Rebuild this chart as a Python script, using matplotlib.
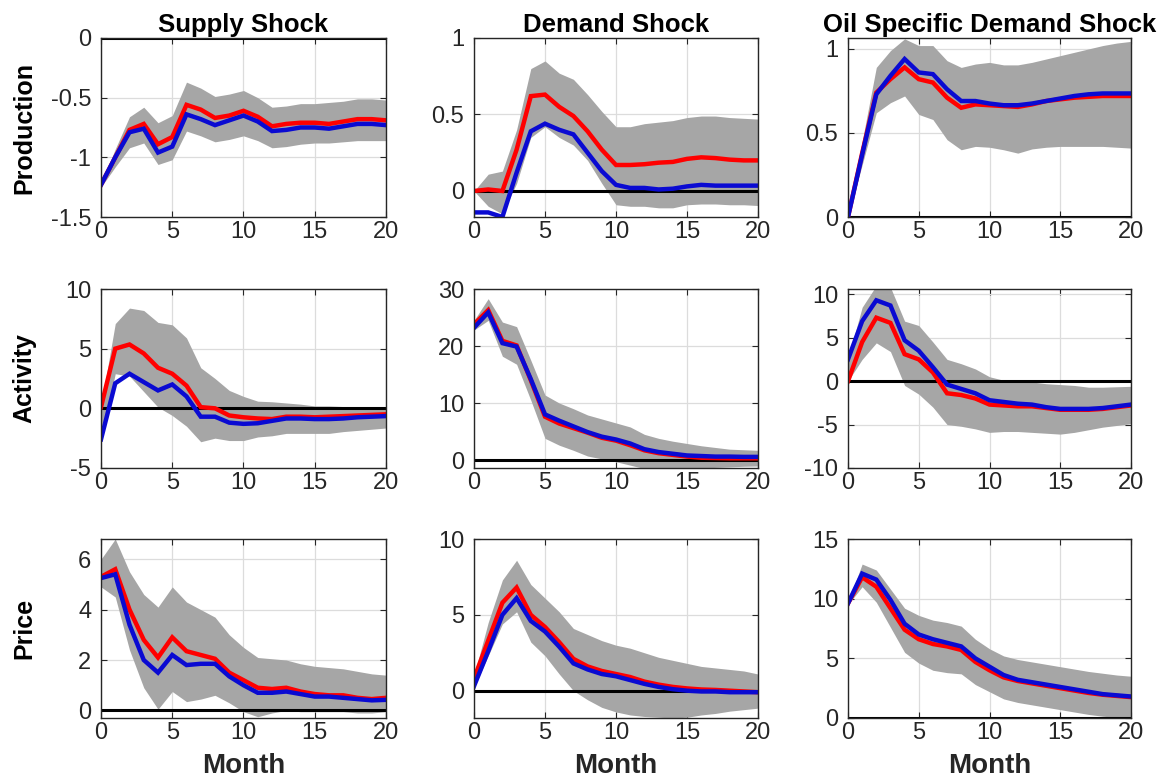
import numpy as np
import matplotlib
matplotlib.use("Agg")
import matplotlib.pyplot as plt

plt.rcParams['font.family'] = ['Liberation Sans', 'DejaVu Sans']

months = list(range(21))
shock_titles = ["Supply Shock", "Demand Shock", "Oil Specific Demand Shock"]
var_labels = ["Production", "Activity", "Price"]

# ---- Production ----
prod_supply_red = [-1.23, -1.0, -0.77, -0.72, -0.89, -0.83, -0.56, -0.60, -0.67, -0.65, -0.61,
                   -0.66, -0.74, -0.72, -0.71, -0.71, -0.72, -0.70, -0.68, -0.68, -0.69]
prod_supply_blue = [-1.23, -1.0, -0.79, -0.76, -0.96, -0.91, -0.64, -0.68, -0.73, -0.69, -0.65,
                    -0.70, -0.78, -0.77, -0.75, -0.75, -0.76, -0.74, -0.72, -0.72, -0.73]
prod_supply_hi = [-1.22, -0.93, -0.66, -0.58, -0.71, -0.65, -0.37, -0.42, -0.49, -0.47, -0.44,
                  -0.50, -0.58, -0.57, -0.55, -0.55, -0.54, -0.53, -0.51, -0.51, -0.52]
prod_supply_lo = [-1.25, -1.08, -0.92, -0.88, -1.06, -1.02, -0.78, -0.82, -0.87, -0.85, -0.82,
                  -0.86, -0.92, -0.91, -0.89, -0.88, -0.88, -0.87, -0.86, -0.86, -0.86]

prod_demand_red = [0.0, 0.01, 0.0, 0.27, 0.62, 0.63, 0.55, 0.49, 0.39, 0.27, 0.17,
                   0.17, 0.175, 0.185, 0.19, 0.21, 0.22, 0.215, 0.205, 0.20, 0.20]
prod_demand_blue = [-0.14, -0.14, -0.17, 0.12, 0.39, 0.44, 0.40, 0.37, 0.25, 0.13, 0.04,
                    0.02, 0.02, 0.01, 0.015, 0.03, 0.04, 0.035, 0.035, 0.035, 0.035]
prod_demand_hi = [0.0, 0.11, 0.13, 0.40, 0.80, 0.85, 0.77, 0.73, 0.63, 0.52, 0.42,
                  0.42, 0.44, 0.45, 0.46, 0.48, 0.49, 0.49, 0.48, 0.475, 0.47]
prod_demand_lo = [0.0, -0.10, -0.15, 0.05, 0.35, 0.42, 0.35, 0.30, 0.20, 0.05, -0.09,
                  -0.10, -0.10, -0.11, -0.11, -0.09, -0.085, -0.085, -0.09, -0.09, -0.095]

prod_oil_red = [0.0, 0.38, 0.74, 0.82, 0.89, 0.82, 0.80, 0.71, 0.65, 0.67, 0.665,
                0.66, 0.655, 0.67, 0.69, 0.70, 0.71, 0.715, 0.72, 0.72, 0.72]
prod_oil_blue = [0.0, 0.37, 0.73, 0.84, 0.94, 0.86, 0.85, 0.76, 0.69, 0.69, 0.675,
                 0.665, 0.665, 0.675, 0.69, 0.705, 0.72, 0.73, 0.735, 0.735, 0.735]
prod_oil_hi = [0.0, 0.45, 0.89, 0.99, 1.06, 1.02, 1.02, 0.93, 0.89, 0.91, 0.92,
               0.905, 0.905, 0.92, 0.94, 0.96, 0.98, 1.00, 1.02, 1.035, 1.045]
prod_oil_lo = [0.0, 0.31, 0.62, 0.68, 0.72, 0.61, 0.58, 0.46, 0.40, 0.42, 0.415,
               0.40, 0.38, 0.405, 0.415, 0.42, 0.42, 0.42, 0.42, 0.415, 0.41]

# ---- Activity ----
act_supply_red = [0.1, 5.0, 5.35, 4.6, 3.4, 2.9, 1.9, 0.1, 0.0, -0.6, -0.75,
                  -0.85, -0.9, -0.7, -0.7, -0.75, -0.7, -0.65, -0.6, -0.55, -0.5]
act_supply_blue = [-2.6, 2.1, 2.9, 2.2, 1.5, 2.0, 1.0, -0.7, -0.7, -1.2, -1.3,
                   -1.25, -1.05, -0.85, -0.85, -0.9, -0.9, -0.85, -0.75, -0.7, -0.65]
act_supply_hi = [0.2, 7.1, 8.4, 8.2, 7.2, 7.0, 5.9, 3.4, 2.5, 1.5, 1.0,
                 0.6, 0.55, 0.45, 0.35, 0.2, 0.2, 0.15, 0.1, 0.05, 0.0]
act_supply_lo = [-2.6, 2.9, 2.7, 1.4, 0.1, -0.6, -1.5, -2.8, -2.5, -2.7, -2.7,
                 -2.4, -2.3, -2.1, -2.1, -2.1, -2.1, -1.95, -1.85, -1.75, -1.65]

act_demand_red = [23.8, 26.3, 20.9, 20.1, 14.0, 7.6, 6.4, 5.6, 4.8, 3.9, 3.4,
                  2.6, 1.7, 1.2, 0.9, 0.6, 0.4, 0.35, 0.3, 0.3, 0.3]
act_demand_blue = [23.2, 25.9, 20.5, 19.9, 14.2, 8.0, 6.9, 5.9, 4.9, 4.1, 3.6,
                   2.9, 1.9, 1.4, 1.1, 0.8, 0.7, 0.6, 0.6, 0.55, 0.55]
act_demand_hi = [24.5, 28.3, 24.2, 23.4, 17.5, 11.4, 10.0, 9.0, 7.9, 7.2, 6.5,
                 5.8, 4.5, 3.8, 3.3, 2.9, 2.5, 2.2, 1.9, 1.8, 1.7]
act_demand_lo = [22.8, 24.5, 18.2, 16.8, 10.5, 3.8, 2.6, 1.7, 0.7, 0.2, -0.3,
                 -0.9, -1.5, -1.6, -1.6, -1.6, -1.4, -1.3, -1.2, -1.1, -1.05]

act_oil_red = [0.0, 4.5, 7.3, 6.7, 3.1, 2.5, 1.0, -1.4, -1.6, -2.0, -2.7,
               -2.8, -2.9, -2.9, -3.1, -3.3, -3.3, -3.3, -3.2, -3.0, -2.8]
act_oil_blue = [2.5, 6.9, 9.3, 8.7, 4.7, 3.5, 1.6, -0.4, -0.9, -1.4, -2.2,
                -2.4, -2.6, -2.7, -3.0, -3.2, -3.2, -3.2, -3.1, -2.9, -2.7]
act_oil_hi = [2.6, 8.5, 11.0, 10.8, 6.9, 6.4, 4.5, 2.5, 2.0, 1.4, 0.5,
              0.1, 0.0, -0.1, -0.3, -0.4, -0.5, -0.7, -0.7, -0.65, -0.6]
act_oil_lo = [0.0, 2.5, 4.4, 3.4, -0.5, -1.5, -3.0, -5.0, -5.2, -5.5, -5.9,
              -5.8, -5.8, -5.9, -6.0, -6.1, -5.9, -5.6, -5.3, -5.1, -4.9]

# ---- Price ----
price_supply_red = [5.3, 5.6, 4.0, 2.8, 2.1, 2.9, 2.35, 2.2, 2.05, 1.5, 1.2,
                    0.9, 0.85, 0.9, 0.75, 0.65, 0.6, 0.6, 0.5, 0.45, 0.5]
price_supply_blue = [5.25, 5.4, 3.4, 2.0, 1.5, 2.2, 1.8, 1.85, 1.85, 1.35, 1.0,
                     0.7, 0.7, 0.75, 0.65, 0.55, 0.55, 0.5, 0.45, 0.4, 0.42]
price_supply_hi = [6.0, 6.8, 5.5, 4.6, 4.1, 4.9, 4.3, 4.0, 3.7, 3.0, 2.5,
                   2.1, 2.05, 2.0, 1.85, 1.75, 1.7, 1.65, 1.55, 1.45, 1.4]
price_supply_lo = [4.9, 4.5, 2.4, 0.9, 0.05, 0.75, 0.35, 0.45, 0.6, 0.3, -0.05,
                   -0.25, -0.1, 0.0, -0.05, -0.05, -0.05, -0.05, -0.1, -0.1, -0.05]

price_demand_red = [0.8, 3.3, 5.8, 6.8, 5.0, 4.2, 3.2, 2.1, 1.6, 1.3, 1.1,
                    0.9, 0.6, 0.4, 0.25, 0.15, 0.08, 0.05, 0.0, -0.05, -0.1]
price_demand_blue = [0.3, 2.6, 5.0, 6.1, 4.6, 3.9, 2.9, 1.8, 1.4, 1.1, 0.95,
                     0.7, 0.45, 0.25, 0.1, 0.0, -0.05, -0.05, -0.1, -0.1, -0.1]
price_demand_hi = [1.0, 4.5, 7.3, 8.6, 7.0, 6.1, 5.2, 4.1, 3.7, 3.3, 3.0,
                   2.8, 2.5, 2.2, 2.0, 1.8, 1.6, 1.5, 1.4, 1.3, 1.1]
price_demand_lo = [0.2, 2.3, 4.4, 5.2, 3.2, 2.3, 1.1, 0.0, -0.6, -1.1, -1.4,
                   -1.6, -1.7, -1.75, -1.8, -1.75, -1.6, -1.5, -1.35, -1.25, -1.15]

price_oil_red = [9.6, 11.8, 11.0, 9.2, 7.4, 6.6, 6.2, 6.0, 5.7, 4.7, 4.0,
                 3.4, 3.1, 2.9, 2.7, 2.5, 2.3, 2.1, 1.95, 1.85, 1.75]
price_oil_blue = [9.6, 12.1, 11.6, 9.9, 7.9, 7.0, 6.6, 6.3, 6.0, 5.0, 4.3,
                  3.6, 3.2, 3.0, 2.8, 2.6, 2.4, 2.2, 2.0, 1.9, 1.8]
price_oil_hi = [9.7, 12.9, 12.4, 10.8, 9.2, 8.6, 8.2, 8.0, 7.7, 6.6, 5.8,
                5.2, 4.9, 4.7, 4.5, 4.3, 4.1, 3.9, 3.75, 3.6, 3.5]
price_oil_lo = [9.5, 11.0, 9.7, 7.6, 5.5, 4.6, 4.0, 3.8, 3.7, 2.8, 2.2,
                1.6, 1.3, 1.1, 0.9, 0.7, 0.5, 0.3, 0.15, 0.05, 0.0]

panels = [
    [(prod_supply_red, prod_supply_blue, prod_supply_hi, prod_supply_lo),
     (prod_demand_red, prod_demand_blue, prod_demand_hi, prod_demand_lo),
     (prod_oil_red, prod_oil_blue, prod_oil_hi, prod_oil_lo)],
    [(act_supply_red, act_supply_blue, act_supply_hi, act_supply_lo),
     (act_demand_red, act_demand_blue, act_demand_hi, act_demand_lo),
     (act_oil_red, act_oil_blue, act_oil_hi, act_oil_lo)],
    [(price_supply_red, price_supply_blue, price_supply_hi, price_supply_lo),
     (price_demand_red, price_demand_blue, price_demand_hi, price_demand_lo),
     (price_oil_red, price_oil_blue, price_oil_hi, price_oil_lo)],
]

ylims = [[(-1.5, 0.0), (-0.17, 1.0), (0.0, 1.065)],
         [(-5, 10), (-1.4, 30), (-10, 10.6)],
         [(-0.3, 6.8), (-1.8, 10), (0, 15)]]
yticks = [[[-1.5, -1, -0.5, 0], [0, 0.5, 1], [0, 0.5, 1]],
          [[-5, 0, 5, 10], [0, 10, 20, 30], [-10, -5, 0, 5, 10]],
          [[0, 2, 4, 6], [0, 5, 10], [0, 5, 10, 15]]]
ytick_labels = [[["-1.5", "-1", "-0.5", "0"], ["0", "0.5", "1"], ["0", "0.5", "1"]],
                [["-5", "0", "5", "10"], ["0", "10", "20", "30"], ["-10", "-5", "0", "5", "10"]],
                [["0", "2", "4", "6"], ["0", "5", "10"], ["0", "5", "10", "15"]]]
xticks = [0, 5, 10, 15, 20]

W, H = 1161, 780
fig = plt.figure(figsize=(W / 100, H / 100), dpi=100)

col_left = [101, 474, 848]
col_w = [285, 284, 283]
row_top = [38, 289, 539]
row_h = 179

BAND = '#a6a6a6'
RED = '#ff0000'
BLUE = '#0a0ad2'
TXT = '#262626'

for r in range(3):
    for c in range(3):
        red, blue, hi, lo = panels[r][c]
        ax = fig.add_axes([col_left[c] / W, 1 - (row_top[r] + row_h) / H,
                           col_w[c] / W, row_h / H])
        ax.fill_between(months, lo, hi, color=BAND, linewidth=0, zorder=1)
        ax.axhline(0, color='black', lw=2.2, zorder=2)
        ax.plot(months, red, color=RED, lw=3.2, zorder=3, solid_joinstyle='miter')
        ax.plot(months, blue, color=BLUE, lw=3.2, zorder=4, solid_joinstyle='miter')
        ax.set_xlim(0, 20)
        ax.set_ylim(*ylims[r][c])
        ax.set_xticks(xticks)
        ax.set_xticklabels([str(v) for v in xticks])
        ax.set_yticks(yticks[r][c])
        ax.set_yticklabels(ytick_labels[r][c])
        ax.grid(True, color='#dcdcdc', lw=0.9, zorder=0)
        ax.set_axisbelow(True)
        ax.tick_params(direction='in', length=4, width=0.8, colors=TXT,
                       labelsize=17, top=True, right=True, pad=3)
        ax.tick_params(axis='y', pad=7)
        for s in ax.spines.values():
            s.set_color(TXT)
            s.set_linewidth(1.0)
            s.set_zorder(5)
        if r == 0:
            ax.set_title(shock_titles[c], fontsize=18.5, fontweight='bold', pad=4)
        if c == 0:
            ax.set_ylabel(var_labels[r], fontsize=18, fontweight='bold',
                          va='center', color='black')
            ax.yaxis.set_label_coords(-77 / col_w[c], 0.5)
        if r == 2:
            ax.set_xlabel("Month", fontsize=20, fontweight='bold', va='center',
                          color=TXT)
            ax.xaxis.set_label_coords(0.5, -(767 - 719) / row_h)

fig.savefig("out.png", dpi=100)
